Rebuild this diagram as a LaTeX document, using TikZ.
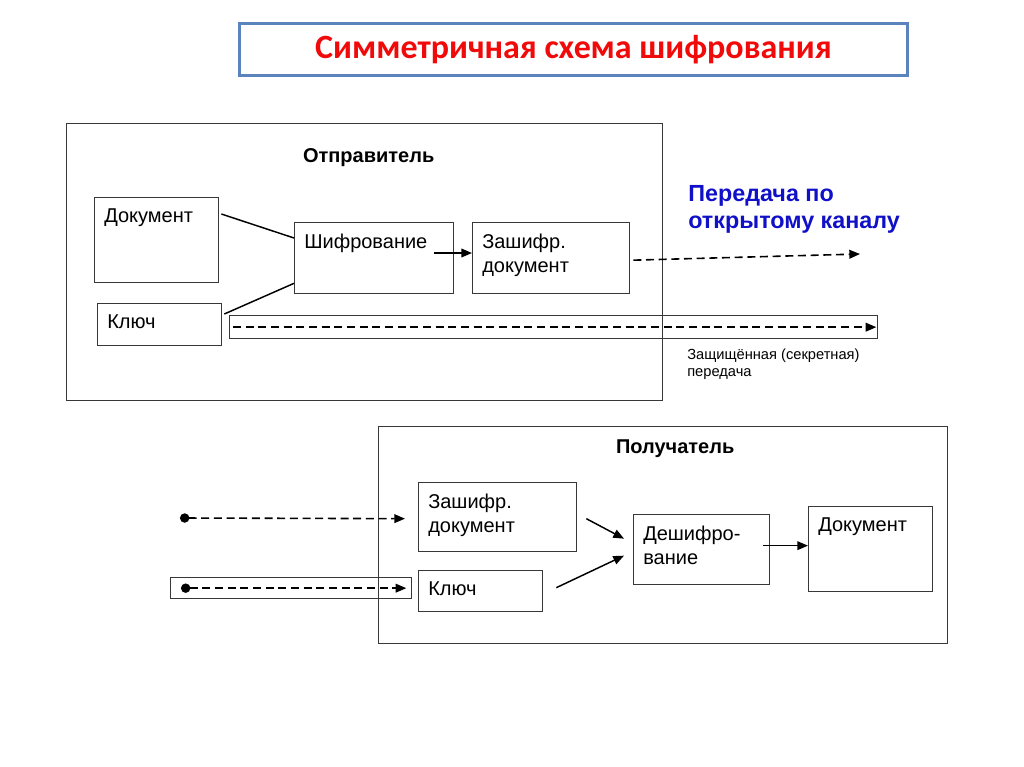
\documentclass[tikz,border=0pt]{standalone}
\usepackage{fontspec}
\setmainfont{Liberation Sans}
\newfontfamily\titlefont{Carlito}
\usetikzlibrary{arrows.meta,calc}
\definecolor{titlered}{HTML}{F00A0A}
\definecolor{frameblue}{HTML}{5B84BE}
\definecolor{chanblue}{HTML}{1010C8}
\definecolor{boxgray}{HTML}{383838}

\begin{document}
\begin{tikzpicture}[
  x=0.75pt, y=-0.75pt,
  every node/.style={font=\fontsize{15}{18}\selectfont},
  blk/.style={draw=boxgray, line width=1pt, anchor=north west, inner sep=0pt},
  txt/.style={anchor=north west, align=left, inner xsep=7.5pt, inner ysep=8.5pt},
  head/.style={anchor=north, inner sep=0pt, font=\bfseries\fontsize{15}{18}\selectfont},
  ln/.style={line width=1.1pt},
  arr/.style={-{Triangle[length=8pt,width=6.5pt]}, line width=1.1pt},
  darr/.style={arr, line width=1.2pt, dash pattern=on 6pt off 3.5pt},
  dotstart/.style={{Circle[length=7pt]}-{Triangle[length=8pt,width=6.5pt]}}
]
\useasboundingbox (0,0) rectangle (1024,767);

\node (title) [blk, draw=frameblue, line width=2.2pt, minimum width=501pt, minimum height=39pt,
  font=\titlefont\bfseries\fontsize{25.5}{30}\selectfont, text=titlered] at (238,22)
  {Симметричная схема шифрования};

\node (snd) [blk, minimum width=447pt, minimum height=207.75pt] at (66,123) {};
\node (sndt) [head] at ($(snd.north)+(4,25)$) {Отправитель};
\node (doc1) [blk, minimum width=93pt, minimum height=63.75pt] at (94,197) {};
\node (doc1t) [txt] at (doc1.north west) {Документ};
\node (enc) [blk, minimum width=119.25pt, minimum height=53.25pt] at (294,222) {};
\node (enct) [txt] at (enc.north west) {Шифрование};
\node (cdoc1) [blk, minimum width=117.75pt, minimum height=53.25pt] at (472,222) {};
\node (cdoc1t) [txt] at (cdoc1.north west) {Зашифр.\\документ};
\node (key1) [blk, minimum width=93pt, minimum height=31.5pt] at (97,303) {};
\node (key1t) [txt] at (key1.north west) {Ключ};
\node (tube1) [blk, minimum width=486pt, minimum height=17.25pt] at (229,315) {};

\node (chan) [anchor=north west, align=left, inner sep=0pt, text=chanblue,
  font=\bfseries\fontsize{17.5}{20.5}\selectfont] at (688,185) {Передача по\\открытому каналу};
\node (sec) [anchor=north west, align=left, inner sep=0pt,
  font=\fontsize{11}{12.75}\selectfont] at (687,349) {Защищённая (секретная)\\передача};
\coordinate (chanend) at (860,254);

\node (rcv) [blk, minimum width=426.75pt, minimum height=162.75pt] at (378,426) {};
\node (rcvt) [head] at ($(rcv.north)+(12,13)$) {Получатель};
\node (cdoc2) [blk, minimum width=118.5pt, minimum height=51.75pt] at (418,482) {};
\node (cdoc2t) [txt] at (cdoc2.north west) {Зашифр.\\документ};
\node (key2) [blk, minimum width=93pt, minimum height=30.75pt] at (418,570) {};
\node (key2t) [txt] at (key2.north west) {Ключ};
\node (dec) [blk, minimum width=102pt, minimum height=52.5pt] at (633,514) {};
\node (dect) [txt] at (dec.north west) {Дешифро-\\вание};
\node (doc2) [blk, minimum width=93pt, minimum height=63.75pt] at (808,506) {};
\node (doc2t) [txt] at (doc2.north west) {Документ};
\node (tube2) [blk, minimum width=180.75pt, minimum height=15.75pt] at (170,577) {};
\coordinate (cin) at (180,518);

\draw[ln] ($(doc1.north east)+(2,17)$) -- ($(enc.north west)+(0,16)$);
\draw[ln] ($(key1.north east)+(2,11)$) -- ($(enc.south west)+(0,-11)$);
\draw[arr] ($(enc.north east)+(-20,31)$) -- ($(cdoc1.north west)+(0,31)$);
\draw[darr] ($(cdoc1.east)+(3,2)$) -- (chanend);
\draw[darr] ($(tube1.west)+(4,0)$) -- ($(tube1.east)+(-2,0)$);

\draw[darr, dotstart] (cin) -- ($(cdoc2.west)+(-13,1.5)$);
\draw[darr, dotstart] ($(tube2.west)+(11,0)$) -- ($(tube2.east)+(-6,0)$);
\draw[arr] ($(cdoc2.east)+(9,1.5)$) -- ($(dec.west)+(-9,-11)$);
\draw[arr] ($(key2.east)+(13,-3.5)$) -- ($(dec.west)+(-9,6)$);
\draw[arr] ($(dec.east)+(-7,-4)$) -- ($(doc2.west)+(0,-3.5)$);
\end{tikzpicture}
\end{document}
